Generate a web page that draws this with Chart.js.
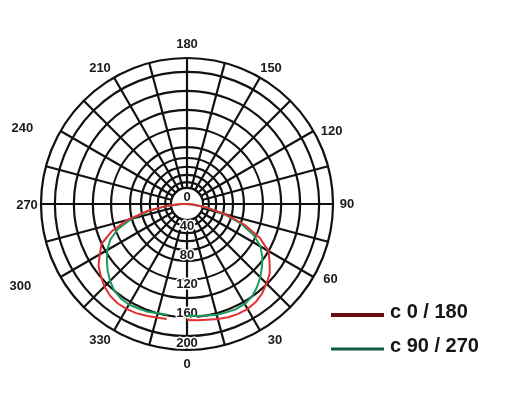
<!DOCTYPE html>
<html>
<head>
<meta charset="utf-8">
<script src="https://cdn.jsdelivr.net/npm/chart.js@4/dist/chart.umd.min.js"></script>
<style>
  body { margin: 0; background: #fff; }
  canvas { display: block; }
</style>
</head>
<body>
<canvas id="polarChart" width="506" height="403"></canvas>
<script>
// gamma angles 0..355 in 5 degree steps (intensity, cd)
const c0_180 = [
  159, 160, 161, 163, 165, 166, 166, 164, 160, 154, 148, 138, 129, 110, 85, 55, 27, 8, 0,
  0, 0, 0, 0, 0, 0, 0, 0, 0, 0, 0, 0, 0, 0, 0, 0, 0, 0,
  0, 0, 0, 0, 0, 0, 0, 0, 0, 0, 0, 0, 0, 0, 0, 0,
  0, 8, 27, 55, 85, 110, 129, 138, 148, 154, 160, 164, 166, 166, 165, 163, 161, 160
];
const c90_270 = [
  153, 154, 155, 157, 158, 159, 158, 155, 149, 142, 134, 126, 116, 101, 79, 52, 26, 8, 0,
  0, 0, 0, 0, 0, 0, 0, 0, 0, 0, 0, 0, 0, 0, 0, 0, 0, 0,
  0, 0, 0, 0, 0, 0, 0, 0, 0, 0, 0, 0, 0, 0, 0, 0,
  0, 8, 26, 52, 79, 101, 116, 126, 134, 142, 149, 155, 158, 159, 158, 157, 155, 154
];
const seriesNames = ['c 0 / 180', 'c 90 / 270'];
const ringValues = [0, 22, 30, 40, 51, 63, 78, 104, 129, 155, 181, 200];
const tickValues = [0, 40, 80, 120, 160, 200];

// categories clockwise from the top: 180, 175, ... 0 ... 185
const angles = Array.from({ length: 72 }, (_, i) => (540 - 5 * i) % 360);

const lineColors = ['#e0302f', '#1f9a5e'];
const legendColors = ['#6e0d0d', '#0f5c43'];
const font = '"Liberation Sans", Arial, sans-serif';
// small hand nudges so the angle labels sit where the original has them
const labelNudge = {
  150: [4, 3], 120: [6, 7], 60: [5, -5], 30: [8, -2],
  330: [-7, -2], 300: [-28, 2], 240: [-26, 4], 210: [-7, 3], 270: [0, 1]
};

const polarDecor = {
  id: 'polarDecor',
  beforeDatasetsDraw(chart) {
    const s = chart.scales.r;
    const c = chart.ctx;
    c.save();
    // white hub in the middle
    c.beginPath();
    c.arc(s.xCenter, s.yCenter, s.getDistanceFromCenterForValue(ringValues[1]), 0, Math.PI * 2);
    c.fillStyle = '#fff';
    c.fill();
    c.lineWidth = 2.2;
    c.strokeStyle = '#111';
    c.stroke();
    // intensity labels down the 0 axis
    c.font = 'bold 13px ' + font;
    c.textAlign = 'center';
    c.textBaseline = 'middle';
    c.lineJoin = 'round';
    tickValues.forEach(v => {
      const y = s.yCenter + (v === 0 ? -7 : s.getDistanceFromCenterForValue(v) - 7);
      c.strokeStyle = '#fff';
      c.lineWidth = 3;
      c.strokeText(String(v), s.xCenter, y);
      c.fillStyle = '#1a1a1a';
      c.fillText(String(v), s.xCenter, y);
    });
    c.restore();
  },
  afterDraw(chart) {
    const s = chart.scales.r;
    const c = chart.ctx;
    c.save();
    // angle labels every 30 degrees
    c.font = 'bold 13px ' + font;
    c.fillStyle = '#1a1a1a';
    c.textAlign = 'center';
    c.textBaseline = 'middle';
    angles.forEach((a, i) => {
      if (a % 30 !== 0) return;
      const p = s.getPointPosition(i, s.drawingArea + 14);
      const n = labelNudge[a] || [0, 0];
      c.fillText(String(a), p.x + n[0], p.y + n[1]);
    });
    // legend in the lower right corner
    chart.data.datasets.forEach((ds, i) => {
      const y = 315 + i * 34;
      c.beginPath();
      c.moveTo(331, y);
      c.lineTo(384, y);
      c.lineWidth = i === 0 ? 4 : 3;
      c.strokeStyle = legendColors[i];
      c.stroke();
      c.font = 'bold 20px ' + font;
      c.textAlign = 'left';
      c.fillStyle = '#161616';
      c.fillText(ds.label, 390, y - 3);
    });
    c.restore();
  }
};

new Chart(document.getElementById('polarChart'), {
  type: 'radar',
  data: {
    labels: angles,
    datasets: [
      {
        label: seriesNames[0],
        data: angles.map(a => c0_180[a / 5]),
        borderColor: lineColors[0],
        borderWidth: 2,
        fill: false,
        pointRadius: 0,
        tension: 0
      },
      {
        label: seriesNames[1],
        data: angles.map(a => c90_270[a / 5]),
        borderColor: lineColors[1],
        borderWidth: 2,
        fill: false,
        pointRadius: 0,
        tension: 0
      }
    ]
  },
  options: {
    responsive: false,
    animation: false,
    layout: { padding: { left: 41, top: 58, right: 173, bottom: 53 } },
    plugins: {
      legend: { display: false },
      tooltip: { enabled: false }
    },
    scales: {
      r: {
        min: 0,
        max: 200,
        afterBuildTicks: scale => {
          scale.ticks = ringValues.map(v => ({ value: v }));
        },
        ticks: { display: false },
        grid: { circular: true, color: '#111', lineWidth: 2.2 },
        angleLines: {
          color: ctx => ctx.index % 3 === 0 ? '#111' : 'rgba(0,0,0,0)',
          lineWidth: 2.2
        },
        pointLabels: { display: false }
      }
    }
  },
  plugins: [polarDecor]
});
</script>
</body>
</html>
